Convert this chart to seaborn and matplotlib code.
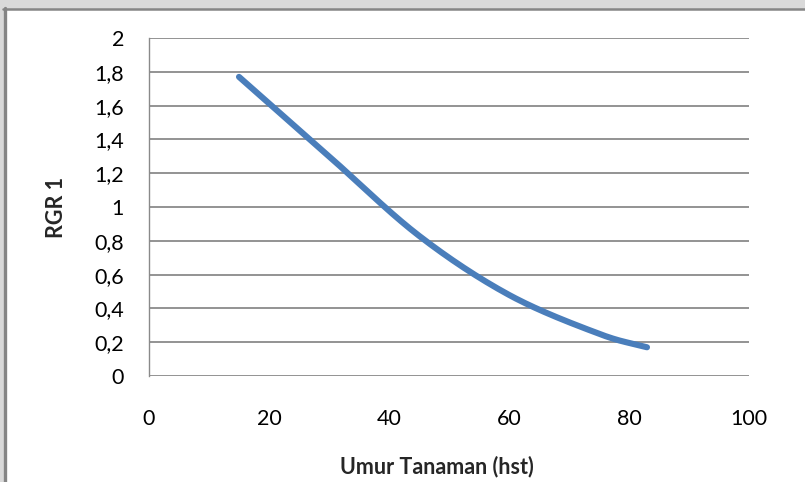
import numpy as np
import pandas as pd
import matplotlib
matplotlib.use("Agg")
import matplotlib.pyplot as plt
from matplotlib.patches import Rectangle
from matplotlib.lines import Line2D
import seaborn as sns

# Relative growth rate over plant age
umur = [15, 30, 45, 60, 75, 83]
rgr = [1.77, 1.30, 0.83, 0.48, 0.25, 0.17]

x_ticks = [0, 20, 40, 60, 80, 100]
y_ticks = [0, 0.2, 0.4, 0.6, 0.8, 1.0, 1.2, 1.4, 1.6, 1.8, 2.0]
y_tick_labels = ["0", "0,2", "0,4", "0,6", "0,8", "1", "1,2", "1,4", "1,6", "1,8", "2"]


def smooth_curve(xs, ys, n=40):
    """Catmull-Rom spline through the points (like a smoothed scatter line)."""
    xs = np.asarray(xs, float)
    ys = np.asarray(ys, float)
    px = np.concatenate([[2 * xs[0] - xs[1]], xs, [2 * xs[-1] - xs[-2]]])
    py = np.concatenate([[2 * ys[0] - ys[1]], ys, [2 * ys[-1] - ys[-2]]])
    out_x, out_y = [], []
    for i in range(1, len(px) - 2):
        t = np.linspace(0, 1, n, endpoint=(i == len(px) - 3))
        t2, t3 = t * t, t * t * t
        for arr, out in ((px, out_x), (py, out_y)):
            p0, p1, p2, p3 = arr[i - 1], arr[i], arr[i + 1], arr[i + 2]
            out.extend(0.5 * ((2 * p1) + (-p0 + p2) * t
                              + (2 * p0 - 5 * p1 + 4 * p2 - p3) * t2
                              + (-p0 + 3 * p1 - 3 * p2 + p3) * t3))
    return np.array(out_x), np.array(out_y)


sx, sy = smooth_curve(umur, rgr)
df = pd.DataFrame({"Umur": sx, "RGR": sy})

sns.set_theme(style="white")
plt.rcParams["font.family"] = ["Lato", "DejaVu Sans"]

fig = plt.figure(figsize=(8.05, 4.82), dpi=100)
W, H = 805, 482

# Chart frame: light outer band with a dark gray edge on the left and top
fig.patches.append(Rectangle((0, 0), 1, 1, transform=fig.transFigure,
                             facecolor="#d9d9d9", edgecolor="none", zorder=-3))
fig.patches.append(Rectangle((6 / W, 0), 1, (H - 10) / H, transform=fig.transFigure,
                             facecolor="white", edgecolor="none", zorder=-2))
fig.lines.append(Line2D([4.5 / W, 4.5 / W], [0, (H - 8) / H], transform=fig.transFigure,
                        color="#858585", linewidth=2.4, zorder=-1))
fig.lines.append(Line2D([3 / W, 1], [(H - 9) / H, (H - 9) / H], transform=fig.transFigure,
                        color="#858585", linewidth=1.8, zorder=-1))

ax = fig.add_axes([149 / W, (H - 376) / H, 600 / W, 338 / H])
ax.set_facecolor("none")

sns.lineplot(data=df, x="Umur", y="RGR", sort=False, ax=ax,
             color="#4a7ebb", linewidth=4.4, solid_capstyle="round", zorder=3)

ax.set_xlim(0, 100)
ax.set_ylim(0, 2)
ax.set_xticks(x_ticks)
ax.set_xticklabels([str(v) for v in x_ticks])
ax.set_yticks(y_ticks)
ax.set_yticklabels(y_tick_labels)

ax.grid(axis="y", color="#8a8a8a", linewidth=1.3)
ax.grid(axis="x", visible=False)
for side in ["top", "right", "bottom"]:
    ax.spines[side].set_visible(False)
ax.spines["left"].set_color("#8a8a8a")
ax.spines["left"].set_linewidth(1.0)

ax.tick_params(axis="x", length=0, pad=24, labelsize=15.5, colors="black")
ax.tick_params(axis="y", length=0, pad=18, labelsize=15.5, colors="black")

ax.set_xlabel("Umur Tanaman (hst)", fontsize=15.5, fontweight="bold")
ax.set_ylabel("RGR 1", fontsize=15.5, fontweight="bold")
ax.xaxis.set_label_coords((437 - 149) / 600, (376 - 467) / 338)
ax.yaxis.set_label_coords((56 - 149) / 600, 0.5)
ax.xaxis.label.set_va("center")
ax.yaxis.label.set_va("center")
ax.yaxis.label.set_ha("center")

fig.savefig("out.png", dpi=100)
